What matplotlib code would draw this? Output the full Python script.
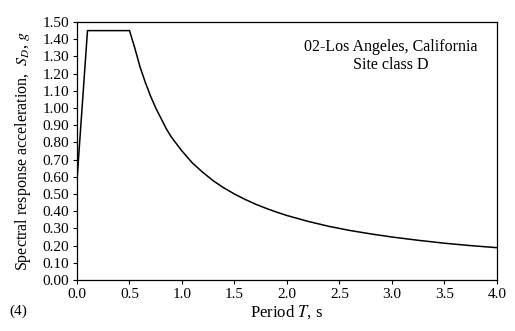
import matplotlib
matplotlib.use("Agg")
import matplotlib.pyplot as plt

# design spectrum
period = [0.0, 0.1, 0.5, 0.55, 0.6, 0.65, 0.7, 0.75, 0.8, 0.85, 0.9, 0.95, 1.0,
          1.1, 1.2, 1.3, 1.4, 1.5, 1.6, 1.7, 1.8, 1.9, 2.0, 2.2, 2.4, 2.6, 2.8,
          3.0, 3.25, 3.5, 3.75, 4.0]
sa = [0.58, 1.45, 1.45, 1.35, 1.24, 1.15, 1.07, 1.0, 0.94, 0.88, 0.83, 0.79, 0.75,
      0.68, 0.625, 0.576, 0.535, 0.50, 0.469, 0.441, 0.417, 0.395, 0.375, 0.341, 0.312,
      0.288, 0.268, 0.25, 0.231, 0.214, 0.20, 0.188]

xticks = [0.0, 0.5, 1.0, 1.5, 2.0, 2.5, 3.0, 3.5, 4.0]
yticks = [i / 10 for i in range(16)]

plt.rcParams['font.family'] = ['Liberation Serif', 'DejaVu Serif']
plt.rcParams['mathtext.fontset'] = 'stix'

fig = plt.figure(figsize=(5.15, 3.31), dpi=100)
ax = fig.add_axes([0.1495, 0.154, 0.8155, 0.7795])

ax.plot(period, sa, color='black', lw=1.1)

ax.set_xlim(0, 4.0)
ax.set_ylim(0, 1.5)
ax.set_xticks(xticks)
ax.set_xticklabels([f"{t:.1f}" for t in xticks])
ax.set_yticks(yticks)
ax.set_yticklabels([f"{t:.2f}" for t in yticks])
ax.tick_params(direction='out', length=3, width=0.8, labelsize=11, pad=2.5, color='black')
for s in ax.spines.values():
    s.set_linewidth(0.9)

ax.set_xlabel("Period $T$, s", fontsize=12, labelpad=2)
ax.set_ylabel("Spectral response acceleration,  $S_D$, $g$", fontsize=11.5, labelpad=7)

ax.text(0.748, 0.905, "02-Los Angeles, California", transform=ax.transAxes,
        ha='center', va='center', fontsize=11.5)
ax.text(0.748, 0.835, "Site class D", transform=ax.transAxes,
        ha='center', va='center', fontsize=11.5)

fig.text(9 / 515, 1 - 311 / 331, "(4)", fontsize=11, va='center', ha='left')

fig.savefig("out.png", dpi=100)
